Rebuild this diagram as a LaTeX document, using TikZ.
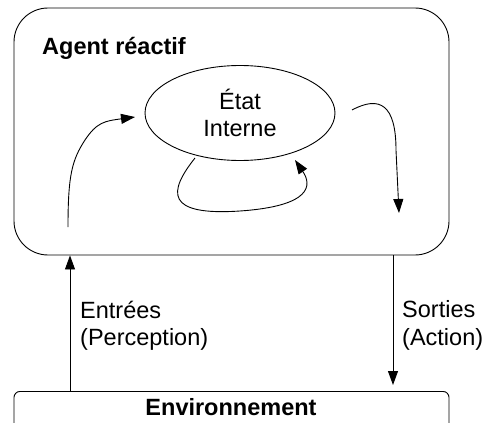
\documentclass[tikz,border=0pt]{standalone}
\usepackage{fontspec}
\setmainfont{Liberation Sans}
\usetikzlibrary{arrows.meta,shapes.geometric}

\tikzset{
    fleche/.style={line width=0.9pt, -{Triangle[length=14pt,width=10pt]}},
    boite/.style={draw, line width=0.9pt, inner sep=0pt},
    texte/.style={font=\fontsize{23.5}{27}\selectfont, inner sep=0pt},
    titre/.style={texte, font=\fontsize{23.5}{27}\selectfont\bfseries}
}

\begin{document}
\begin{tikzpicture}[x=1pt,y=-1pt]
        \clip (0,0) rectangle (483,423);
        \fill[white] (0,0) rectangle (483,423);

        % agent et environnement
        \node[boite, rounded corners=34pt, minimum width=435pt, minimum height=247pt] (agent) at (231.5,131.5) {};
        \node[boite, rounded corners=6pt, minimum width=435pt, minimum height=50pt, anchor=north] (env) at (231.5,391) {};
        \node[titre, anchor=base west] (nomagent) at (42,54) {Agent réactif};
        \node[titre, anchor=base] (nomenv) at (231,415) {Environnement};

        % etat interne
        \node[boite, ellipse, minimum width=190pt, minimum height=95pt, texte, align=center] (etat) at (240,113) {État\\Interne};

        \coordinate (depart) at (68,227);
        \coordinate (arrivee) at (135,117);
        \coordinate (sortie) at (352,110);
        \coordinate (fin) at (399,213);
        \coordinate (boucle) at (195,158);
        \coordinate (retour) at (295,160);

        \draw[fleche] (depart) .. controls (68,175) and (72,160) .. (85,140) .. controls (97,122) and (105,121) .. (arrivee);
        \draw[fleche] (sortie) .. controls (380,95) and (396,105) .. (396,150) -- (fin);
        \draw[fleche] (boucle) .. controls (168,192) and (165,216) .. (240,211) .. controls (312,206) and (312,185) .. (retour);

        % entrees et sorties
        \coordinate (gauche) at (70,0);
        \coordinate (droite) at (393,0);
        \draw[fleche] (env.north -| gauche) -- (agent.south -| gauche);
        \draw[fleche] (agent.south -| droite) -- ([yshift=6pt]env.north -| droite);

        \node[texte, anchor=base west] (entrees) at (80,318) {Entrées};
        \node[texte, anchor=base west] (perception) at (80,345) {(Perception)};
        \node[texte, anchor=base west] (sorties) at (402,317) {Sorties};
        \node[texte, anchor=base west] (action) at (402,345) {(Action)};
    \end{tikzpicture}
\end{document}
